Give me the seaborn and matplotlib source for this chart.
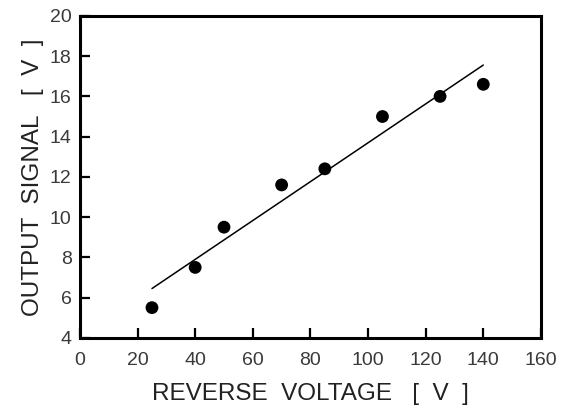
import matplotlib
matplotlib.use('Agg')
import matplotlib.pyplot as plt
import numpy as np
import pandas as pd
import seaborn as sns

reverse_voltage = [25, 40, 50, 70, 85, 105, 125, 140]
output_signal = [5.5, 7.5, 9.5, 11.6, 12.4, 15.0, 16.0, 16.6]

x_ticks = [0, 20, 40, 60, 80, 100, 120, 140, 160]
y_ticks = [4, 6, 8, 10, 12, 14, 16, 18, 20]

df = pd.DataFrame({'voltage': reverse_voltage, 'signal': output_signal})

sns.set_style('ticks')
plt.rcParams['font.family'] = ['Liberation Sans', 'DejaVu Sans']

fig = plt.figure(figsize=(5.67, 4.08), dpi=100)
ax = fig.add_axes([0.141, 0.172, 0.813, 0.789])

# linear fit drawn by seaborn, no confidence band
sns.regplot(data=df, x='voltage', y='signal', ax=ax, ci=None,
            scatter_kws={'s': 85, 'color': 'black', 'edgecolor': 'none', 'alpha': 1},
            line_kws={'color': 'black', 'linewidth': 1.1})

ax.set_xlim(0, 160)
ax.set_ylim(4, 20)
ax.set_xticks(x_ticks)
ax.set_yticks(y_ticks)

for s in ax.spines.values():
    s.set_linewidth(2.2)
    s.set_color('black')
    s.set_visible(True)

ax.tick_params(direction='in', length=7, width=1.6, colors='black',
               labelcolor='#3a3a3a', labelsize=14, top=False, right=False)
ax.tick_params(axis='x', pad=10)
ax.tick_params(axis='y', pad=6)

ax.set_xlabel('REVERSE  VOLTAGE   [  V  ]', fontsize=17.5, color='#222222', labelpad=10)
ax.set_ylabel('OUTPUT  SIGNAL   [  V  ]', fontsize=17.5, color='#222222', labelpad=4)

plt.savefig('out.png', dpi=100)
plt.close()
